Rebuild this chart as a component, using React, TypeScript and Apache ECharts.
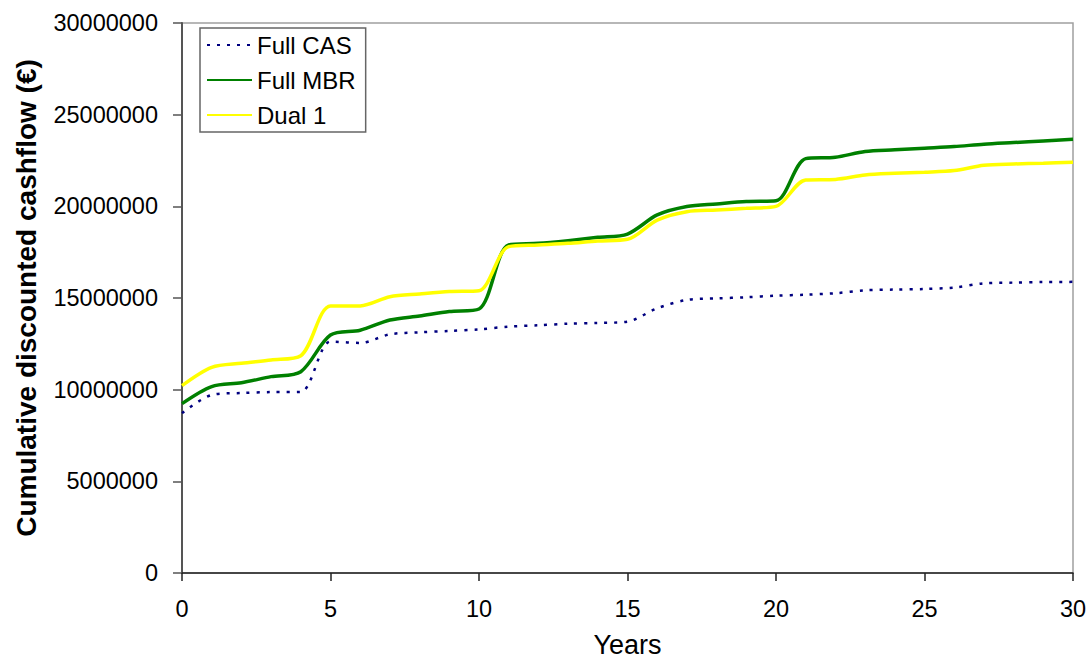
import React, { useEffect, useRef } from "react";
import * as echarts from "echarts";

const years = [0,1,2,3,4,5,6,7,8,9,10,11,12,13,14,15,16,17,18,19,20,21,22,23,24,25,26,27,28,29,30];
const fullCAS = [8.72,9.71,9.82,9.87,9.88,12.62,12.55,13.02,13.13,13.2,13.29,13.44,13.51,13.6,13.64,13.71,14.44,14.9,14.98,15.04,15.13,15.18,15.26,15.42,15.46,15.49,15.57,15.8,15.84,15.87,15.88].map(v => v * 1e6);
const fullMBR = [9.24,10.17,10.38,10.71,10.98,12.98,13.24,13.8,14.02,14.26,14.4,17.9,17.98,18.13,18.31,18.49,19.53,19.99,20.13,20.26,20.3,22.6,22.68,22.99,23.08,23.17,23.26,23.39,23.48,23.57,23.66].map(v => v * 1e6);
const dual1 = [10.22,11.22,11.44,11.62,11.85,14.57,14.57,15.07,15.22,15.35,15.4,17.8,17.89,17.98,18.11,18.2,19.25,19.71,19.8,19.89,20.0,21.44,21.47,21.71,21.8,21.86,21.95,22.24,22.31,22.35,22.4].map(v => v * 1e6);

const seriesNames = ["Full CAS", "Full MBR", "Dual 1"];
const xTitle = "Years";
const yTitle = "Cumulative discounted cashflow (€)";

const FONT = "'Liberation Sans', Arial, sans-serif";

export default function App() {
  const ref = useRef<HTMLDivElement>(null);
  useEffect(() => {
    if (!ref.current) return;
    const chart = echarts.init(ref.current, undefined, { renderer: "svg" });
    const pairs = (arr: number[]) => years.map((y, i) => [y, arr[i]]);
    chart.setOption({
      animation: false,
      backgroundColor: "#ffffff",
      textStyle: { fontFamily: FONT, color: "#000" },
      grid: {
        left: 182, right: 15, top: 23, bottom: 87,
        outerBoundsMode: "none",
        containLabel: false,
        show: true, borderColor: "#a0a0a0", borderWidth: 1.5, backgroundColor: "transparent",
      },
      legend: {
        orient: "vertical",
        left: 200, top: 28,
        data: seriesNames,
        itemWidth: 45, itemHeight: 14, itemGap: 11,
        padding: [5, 10, 5, 6],
        borderColor: "#666", borderWidth: 1.5,
        backgroundColor: "#fff",
        itemStyle: { opacity: 0 },
        textStyle: { fontSize: 24, fontFamily: FONT, color: "#000", lineHeight: 24 },
      },
      xAxis: {
        type: "value", min: 0, max: 30, interval: 5,
        name: xTitle, nameLocation: "middle", nameGap: 58,
        nameTextStyle: { fontSize: 27, fontFamily: FONT, color: "#000" },
        axisLine: { show: true, onZero: false, lineStyle: { color: "#222", width: 1.5 } },
        axisTick: { show: true, length: 8, lineStyle: { color: "#222", width: 1.5 } },
        axisLabel: { fontSize: 23.5, fontFamily: FONT, color: "#000", margin: 24 },
        splitLine: { show: false },
      },
      yAxis: {
        type: "value", min: 0, max: 30000000, interval: 5000000,
        name: yTitle, nameLocation: "middle", nameGap: 142,
        nameTextStyle: { fontSize: 28, fontWeight: "bold", fontFamily: FONT, color: "#000" },
        axisLine: { show: true, onZero: false, lineStyle: { color: "#555", width: 2 } },
        axisTick: { show: true, length: 9, lineStyle: { color: "#555", width: 1.5 } },
        axisLabel: { fontSize: 23.5, fontFamily: FONT, color: "#000", margin: 24, formatter: (v: number) => String(v) },
        splitLine: { show: false },
      },
      series: [
        {
          name: seriesNames[0], type: "line", data: pairs(fullCAS), smooth: 0.3,
          symbol: "none", showSymbol: false,
          lineStyle: { color: "#000080", width: 2.5, type: [3, 7] },
          itemStyle: { color: "#000080" },
        },
        {
          name: seriesNames[1], type: "line", data: pairs(fullMBR), smooth: 0.3,
          symbol: "none", showSymbol: false,
          lineStyle: { color: "#008000", width: 3.5 },
          itemStyle: { color: "#008000" },
        },
        {
          name: seriesNames[2], type: "line", data: pairs(dual1), smooth: 0.3,
          symbol: "none", showSymbol: false,
          lineStyle: { color: "#ffff00", width: 3.5 },
          itemStyle: { color: "#ffff00" },
        },
      ],
    });
    return () => chart.dispose();
  }, []);
  return <div ref={ref} style={{ position: "fixed", left: 0, top: 0, width: 1088, height: 660 }} />;
}
